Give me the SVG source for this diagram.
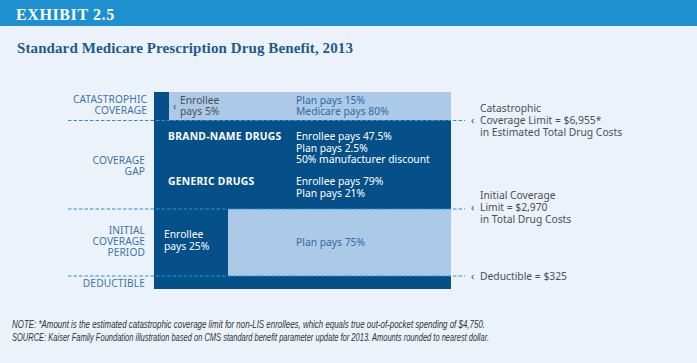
<svg xmlns="http://www.w3.org/2000/svg" width="697" height="363" viewBox="0 0 697 363">
<style>
.bg{fill:#ecf2fa}
.hdr{fill:#1e90d0}
.dark{fill:#06508a}
.light{fill:#adc9e8}
.exh{font-family:"Liberation Serif",serif;font-weight:bold;font-size:16px;fill:#fff;letter-spacing:0.6px}
.title{font-family:"Liberation Serif",serif;font-weight:bold;font-size:15px;fill:#1d5a8e;letter-spacing:0.1px}
.lbl{font-family:"Noto Sans","Liberation Sans",sans-serif;font-size:10.2px;fill:#3b75aa;text-anchor:end;letter-spacing:0.1px}
.t{font-family:"Noto Sans","Liberation Sans",sans-serif;font-size:10.3px}
.w{fill:#fff}
.b{fill:#2f6aa3}
.g{fill:#4a4f57}
.bold{font-weight:bold;letter-spacing:0.3px}
.note{font-family:"Liberation Sans",sans-serif;font-style:italic;font-size:10px;fill:#333}
.dash{stroke:#2a90d8;stroke-width:1.2;stroke-dasharray:3.5 2;fill:none}
</style>
<rect class="bg" x="0" y="0" width="697" height="363"/>
<g id="header">
<rect class="hdr" x="0" y="0" width="697" height="26"/>
<text class="exh" x="16" y="20">EXHIBIT 2.5</text>
</g>
<text class="title" x="17" y="53">Standard Medicare Prescription Drug Benefit, 2013</text>

<g id="catastrophic">
<rect class="light" x="154" y="92" width="297" height="28"/>
<rect class="dark" x="154" y="92" width="15" height="28"/>
<text class="lbl" x="147" y="103">CATASTROPHIC</text>
<text class="lbl" x="147" y="114">COVERAGE</text>
<text class="t g" x="173" y="110">‹</text>
<text class="t g" x="180" y="104">Enrollee</text>
<text class="t g" x="180" y="115">pays 5%</text>
<text class="t b" x="296" y="104">Plan pays 15%</text>
<text class="t b" x="296" y="115">Medicare pays 80%</text>
</g>

<g id="coverage-gap">
<rect class="dark" x="154" y="120" width="297" height="89"/>
<text class="lbl" x="145" y="164">COVERAGE</text>
<text class="lbl" x="145" y="175">GAP</text>
<text class="t w bold" x="168" y="140">BRAND-NAME DRUGS</text>
<text class="t w" x="296" y="140">Enrollee pays 47.5%</text>
<text class="t w" x="296" y="151.5">Plan pays 2.5%</text>
<text class="t w" x="296" y="163">50% manufacturer discount</text>
<text class="t w bold" x="168" y="185">GENERIC DRUGS</text>
<text class="t w" x="296" y="185">Enrollee pays 79%</text>
<text class="t w" x="296" y="196.5">Plan pays 21%</text>
</g>

<g id="initial-coverage">
<rect class="light" x="154" y="209" width="297" height="67"/>
<rect class="dark" x="154" y="209" width="74" height="67"/>
<text class="lbl" x="145" y="234">INITIAL</text>
<text class="lbl" x="145" y="245">COVERAGE</text>
<text class="lbl" x="145" y="256">PERIOD</text>
<text class="t w" x="164" y="238">Enrollee</text>
<text class="t w" x="164" y="249.5">pays 25%</text>
<text class="t b" x="296" y="246">Plan pays 75%</text>
</g>

<g id="deductible">
<rect class="dark" x="154" y="276" width="297" height="13"/>
<text class="lbl" x="145" y="287">DEDUCTIBLE</text>
</g>

<g id="connectors">
<line class="dash" x1="68" y1="120.5" x2="465" y2="120.5"/>
<line class="dash" x1="68" y1="209" x2="465" y2="209"/>
<line class="dash" x1="68" y1="276" x2="465" y2="276"/>
</g>

<g id="limit-catastrophic">
<text class="t g" x="471" y="124">‹</text>
<text class="t g" x="480" y="112">Catastrophic</text>
<text class="t g" x="480" y="124">Coverage Limit = $6,955*</text>
<text class="t g" x="480" y="136">in Estimated Total Drug Costs</text>
</g>
<g id="limit-initial">
<text class="t g" x="471" y="211">‹</text>
<text class="t g" x="480" y="199">Initial Coverage</text>
<text class="t g" x="480" y="211">Limit = $2,970</text>
<text class="t g" x="480" y="223">in Total Drug Costs</text>
</g>
<g id="limit-deductible">
<text class="t g" x="471" y="280">‹</text>
<text class="t g" x="480" y="280">Deductible = $325</text>
</g>

<g id="notes">
<text class="note" x="12" y="328" textLength="473" lengthAdjust="spacingAndGlyphs">NOTE:  *Amount is the estimated catastrophic coverage limit for non-LIS enrollees, which equals true out-of-pocket spending of $4,750.</text>
<text class="note" x="12" y="341" textLength="477" lengthAdjust="spacingAndGlyphs">SOURCE:  Kaiser Family Foundation illustration based on CMS standard benefit parameter update for 2013. Amounts rounded to nearest dollar.</text>
</g>
</svg>
